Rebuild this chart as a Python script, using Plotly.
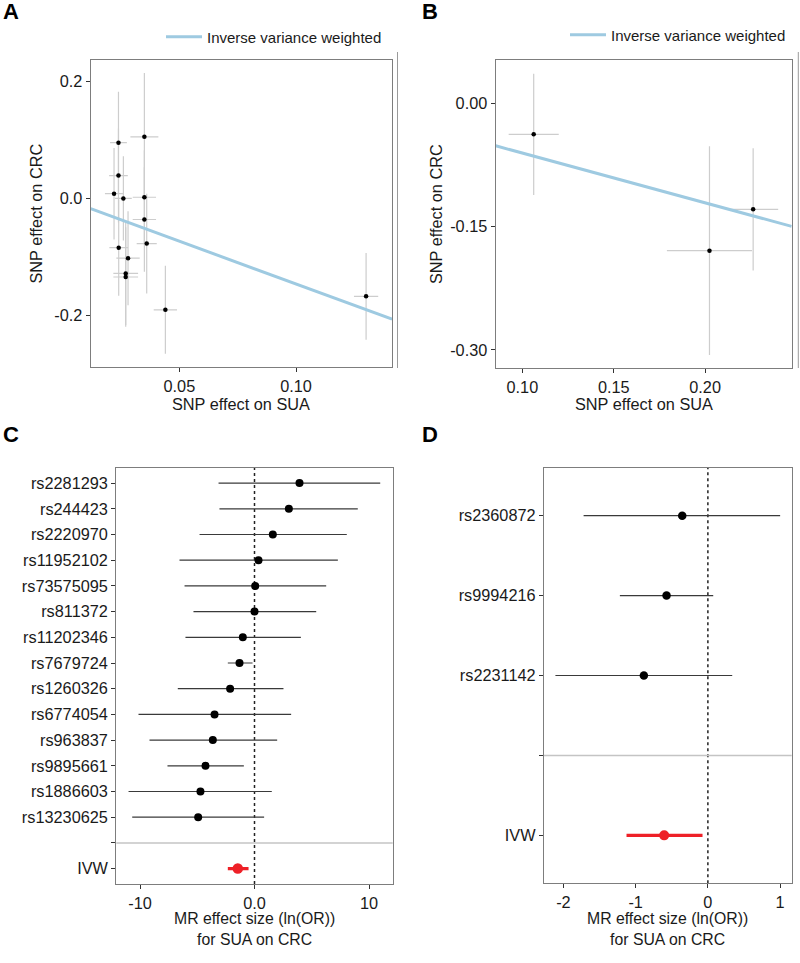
import plotly.graph_objects as go

# ---------------- Data ----------------
# Panel A: SNP effects (SUA -> CRC), 14 SNPs
a_bx = [0.0239, 0.035, 0.0239, 0.022, 0.026, 0.035, 0.035, 0.024, 0.036, 0.028, 0.027, 0.027, 0.044, 0.130]
a_by = [0.095, 0.105, 0.039, 0.008, 0.000, 0.002, -0.036, -0.084, -0.077, -0.102, -0.128, -0.134, -0.190, -0.167]
a_bx_err = [0.0036, 0.006, 0.004, 0.0039, 0.0036, 0.005, 0.005, 0.004, 0.0043, 0.005, 0.0053, 0.0053, 0.005, 0.0052]
a_by_err = [0.087, 0.109, 0.080, 0.078, 0.072, 0.080, 0.089, 0.082, 0.085, 0.080, 0.088, 0.085, 0.075, 0.074]

# Panel B: 3 SNPs
b_bx = [0.1062, 0.2024, 0.2263]
b_by = [-0.0377, -0.1792, -0.1289]
b_bx_err = [0.0137, 0.0233, 0.0137]
b_by_err = [0.0737, 0.127, 0.0744]

# Panel C: forest plot
c_snps = ["rs2281293", "rs244423", "rs2220970", "rs11952102", "rs73575095", "rs811372",
          "rs11202346", "rs7679724", "rs1260326", "rs6774054", "rs963837", "rs9895661",
          "rs1886603", "rs13230625"]
c_est = [3.93, 3.00, 1.60, 0.35, 0.06, 0.00, -1.02, -1.31, -2.13, -3.49, -3.64, -4.28, -4.72, -4.92]
c_lo = [-3.14, -3.06, -4.80, -6.55, -6.11, -5.33, -6.03, -2.33, -6.70, -10.13, -9.17, -7.60, -11.00, -10.68]
c_hi = [10.98, 9.02, 8.06, 7.28, 6.26, 5.39, 4.05, -0.17, 2.53, 3.20, 1.98, -0.93, 1.51, 0.84]
c_ivw = -1.46
c_ivw_lo = -2.33
c_ivw_hi = -0.52

# Panel D: forest plot
d_snps = ["rs2360872", "rs9994216", "rs2231142"]
d_est = [-0.355, -0.572, -0.886]
d_lo = [-1.72, -1.218, -2.11]
d_hi = [1.00, 0.074, 0.337]
d_ivw = -0.605
d_ivw_lo = -1.126
d_ivw_hi = -0.074

# Tick labels
a_xticks = [0.05, 0.10]; a_xtext = ["0.05", "0.10"]
a_yticks = [-0.2, 0.0, 0.2]; a_ytext = ["-0.2", "0.0", "0.2"]
b_xticks = [0.10, 0.15, 0.20]; b_xtext = ["0.10", "0.15", "0.20"]
b_yticks = [-0.30, -0.15, 0.00]; b_ytext = ["-0.30", "-0.15", "0.00"]
c_xticks = [-10, 0, 10]; c_xtext = ["-10", "0.0", "10"]
d_xticks = [-2, -1, 0, 1]; d_xtext = ["-2", "-1", "0", "1"]

# ---------------- Style ----------------
W, H = 800, 963
FONT = "Liberation Sans, Arial, Helvetica, sans-serif"
TICK_SIZE = 16.3
FRAME = "#7d7d7d"
ERR_GREY = "#cdcdcd"
IVW_BLUE = "#9ecae1"
RED = "#ee2027"

def px_x(p):
    return p / W

def px_y(p):
    return 1 - p / H

a_xrange = [0.012, 0.1411]
a_yrange = [-0.2875, 0.236]
b_xrange = [0.0854, 0.2474]
b_yrange = [-0.3223, 0.0527]
c_xrange = [-12.07, 12.07]
d_xrange = [-2.268, 1.16]

fig = go.Figure()

# Panel A
fig.add_trace(go.Scatter(
    x=a_bx, y=a_by, mode="markers",
    marker=dict(color="black", size=4.5),
    error_x=dict(type="data", array=a_bx_err, color=ERR_GREY, thickness=1.2, width=0),
    error_y=dict(type="data", array=a_by_err, color=ERR_GREY, thickness=1.2, width=0),
    xaxis="x", yaxis="y", showlegend=False, hoverinfo="skip"))
fig.add_trace(go.Scatter(
    x=a_xrange, y=[c_ivw * v for v in a_xrange], mode="lines",
    line=dict(color=IVW_BLUE, width=3), name="Inverse variance weighted",
    xaxis="x", yaxis="y", showlegend=True, legend="legend"))

# Panel B
fig.add_trace(go.Scatter(
    x=b_bx, y=b_by, mode="markers",
    marker=dict(color="black", size=4.5),
    error_x=dict(type="data", array=b_bx_err, color=ERR_GREY, thickness=1.2, width=0),
    error_y=dict(type="data", array=b_by_err, color=ERR_GREY, thickness=1.2, width=0),
    xaxis="x2", yaxis="y2", showlegend=False, hoverinfo="skip"))
fig.add_trace(go.Scatter(
    x=b_xrange, y=[d_ivw * v for v in b_xrange], mode="lines",
    line=dict(color=IVW_BLUE, width=3), name="Inverse variance weighted",
    xaxis="x2", yaxis="y2", showlegend=True, legend="legend2"))

# Panel C
c_pos = list(range(1, len(c_snps) + 1))
c_sep = len(c_snps) + 1
c_ivw_pos = len(c_snps) + 2
fig.add_trace(go.Scatter(
    x=c_est, y=c_pos, mode="markers",
    marker=dict(color="black", size=8),
    error_x=dict(type="data", symmetric=False,
                 array=[h - e for h, e in zip(c_hi, c_est)],
                 arrayminus=[e - l for e, l in zip(c_est, c_lo)],
                 color="#3a3a3a", thickness=1.2, width=0),
    xaxis="x3", yaxis="y3", showlegend=False))
fig.add_trace(go.Scatter(
    x=[c_ivw], y=[c_ivw_pos], mode="markers",
    marker=dict(color=RED, size=10.5),
    error_x=dict(type="data", symmetric=False, array=[c_ivw_hi - c_ivw],
                 arrayminus=[c_ivw - c_ivw_lo], color=RED, thickness=3.2, width=0),
    xaxis="x3", yaxis="y3", showlegend=False))

# Panel D
d_pos = list(range(1, len(d_snps) + 1))
d_sep = len(d_snps) + 1
d_ivw_pos = len(d_snps) + 2
fig.add_trace(go.Scatter(
    x=d_est, y=d_pos, mode="markers",
    marker=dict(color="black", size=8.5),
    error_x=dict(type="data", symmetric=False,
                 array=[h - e for h, e in zip(d_hi, d_est)],
                 arrayminus=[e - l for e, l in zip(d_est, d_lo)],
                 color="#3a3a3a", thickness=1.2, width=0),
    xaxis="x4", yaxis="y4", showlegend=False))
fig.add_trace(go.Scatter(
    x=[d_ivw], y=[d_ivw_pos], mode="markers",
    marker=dict(color=RED, size=10),
    error_x=dict(type="data", symmetric=False, array=[d_ivw_hi - d_ivw],
                 arrayminus=[d_ivw - d_ivw_lo], color=RED, thickness=3.2, width=0),
    xaxis="x4", yaxis="y4", showlegend=False))

axis_common = dict(showline=True, mirror=True, linecolor=FRAME, linewidth=1.3,
                   ticks="outside", ticklen=4, tickwidth=1, tickcolor="#333333",
                   showgrid=False, zeroline=False,
                   tickfont=dict(family=FONT, size=TICK_SIZE, color="#1a1a1a"))

fig.update_layout(
    width=W, height=H,
    margin=dict(l=0, r=0, t=0, b=0),
    paper_bgcolor="white", plot_bgcolor="white",
    font=dict(family=FONT, color="#1a1a1a"),
    xaxis=dict(domain=[px_x(90.7), px_x(392)], range=a_xrange, anchor="y",
               tickvals=a_xticks, ticktext=a_xtext, **axis_common),
    yaxis=dict(domain=[px_y(367), px_y(60)], range=a_yrange, anchor="x",
               tickvals=a_yticks, ticktext=a_ytext, **axis_common),
    xaxis2=dict(domain=[px_x(495.7), px_x(791.7)], range=b_xrange, anchor="y2",
                tickvals=b_xticks, ticktext=b_xtext, **axis_common),
    yaxis2=dict(domain=[px_y(368.3), px_y(60)], range=b_yrange, anchor="x2",
                tickvals=b_yticks, ticktext=b_ytext, **axis_common),
    xaxis3=dict(domain=[px_x(116.3), px_x(392.7)], range=c_xrange, anchor="y3",
                tickvals=c_xticks, ticktext=c_xtext, **axis_common),
    yaxis3=dict(domain=[px_y(884), px_y(467.7)], range=[c_ivw_pos + 0.6, 0.4], anchor="x3",
                tickvals=c_pos + [c_sep, c_ivw_pos], ticktext=c_snps + ["", "IVW"],
                **axis_common),
    xaxis4=dict(domain=[px_x(544), px_x(791.7)], range=d_xrange, anchor="y4",
                tickvals=d_xticks, ticktext=d_xtext, **axis_common),
    yaxis4=dict(domain=[px_y(883.3), px_y(467.7)], range=[d_ivw_pos + 0.6, 0.4], anchor="x4",
                tickvals=d_pos + [d_sep, d_ivw_pos], ticktext=d_snps + ["", "IVW"],
                **axis_common),
    legend=dict(x=px_x(161), y=px_y(37), xanchor="left", yanchor="middle",
                orientation="h", bgcolor="rgba(0,0,0,0)", itemwidth=36,
                font=dict(family=FONT, size=15, color="#1a1a1a")),
    legend2=dict(x=px_x(565), y=px_y(35), xanchor="left", yanchor="middle",
                 orientation="h", bgcolor="rgba(0,0,0,0)", itemwidth=36,
                 font=dict(family=FONT, size=15, color="#1a1a1a")),
)

shapes = []
# dotted zero lines and separators in forest plots
for xr, yr in (("x3", "y3 domain"), ("x4", "y4 domain")):
    shapes.append(dict(type="line", xref=xr, yref=yr, x0=0, x1=0, y0=0, y1=1,
                       line=dict(color="#222222", width=1.5, dash="dot"), layer="below"))
shapes.append(dict(type="line", xref="x3 domain", yref="y3", x0=0, x1=1, y0=c_sep, y1=c_sep,
                   line=dict(color="#c4c4c4", width=1.5), layer="below"))
shapes.append(dict(type="line", xref="x4 domain", yref="y4", x0=0, x1=1, y0=d_sep, y1=d_sep,
                   line=dict(color="#c4c4c4", width=1.5), layer="below"))
# thin grey edge lines right of panels A and B
for xp in (397.5, 798.3):
    shapes.append(dict(type="line", xref="paper", yref="paper", x0=px_x(xp), x1=px_x(xp),
                       y0=px_y(368), y1=px_y(52), line=dict(color="#9a9a9a", width=1)))
fig.update_layout(shapes=shapes)

ann = []
title_font = dict(family=FONT, size=TICK_SIZE, color="#1a1a1a")
forest_title_font = dict(family=FONT, size=15.8, color="#1a1a1a")
# panel letters
for lab, x, y in (("A", 10.5, 11.5), ("B", 429.5, 11.5), ("C", 10.5, 434.5), ("D", 429.5, 434.5)):
    ann.append(dict(text="<b>%s</b>" % lab, x=px_x(x), y=px_y(y), xref="paper", yref="paper",
                    showarrow=False, xanchor="center", yanchor="middle",
                    font=dict(family=FONT, size=22, color="black")))
# axis titles
ann.append(dict(text="SNP effect on SUA", x=px_x(241.3), y=px_y(404), xref="paper", yref="paper",
                showarrow=False, xanchor="center", yanchor="middle", font=title_font))
ann.append(dict(text="SNP effect on SUA", x=px_x(643.7), y=px_y(404), xref="paper", yref="paper",
                showarrow=False, xanchor="center", yanchor="middle", font=title_font))
ann.append(dict(text="SNP effect on CRC", x=px_x(35), y=px_y(213.5), xref="paper", yref="paper",
                showarrow=False, xanchor="center", yanchor="middle", textangle=-90, font=title_font))
ann.append(dict(text="SNP effect on CRC", x=px_x(436), y=px_y(214), xref="paper", yref="paper",
                showarrow=False, xanchor="center", yanchor="middle", textangle=-90, font=title_font))
for cx in (254.5, 667.8):
    ann.append(dict(text="MR effect size (ln(OR))<br>for SUA on CRC", x=px_x(cx), y=px_y(929),
                    xref="paper", yref="paper", showarrow=False, xanchor="center",
                    yanchor="middle", font=forest_title_font))
fig.update_layout(annotations=ann)

# remove the browser's default 8px page margin so the figure sits at the window origin
fig.write_html("out.html", config={"displayModeBar": False},
               post_script="document.body.style.margin='0px';")
